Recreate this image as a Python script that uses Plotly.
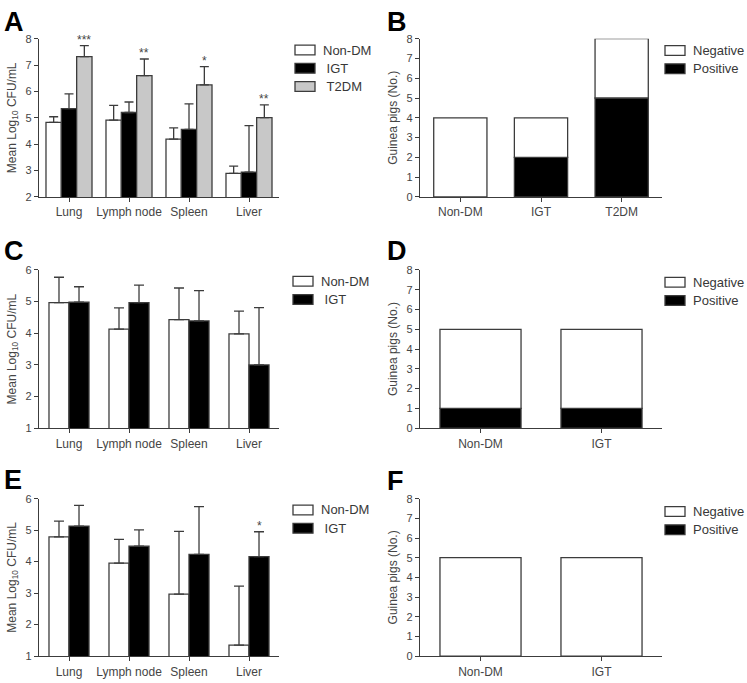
import plotly.graph_objects as go
from plotly.subplots import make_subplots

W, H = 747, 683

organs = ['Lung', 'Lymph node', 'Spleen', 'Liver']

# panel A: Non-DM / IGT / T2DM, mean log10 CFU/mL with upper SD
a_nondm = [4.83, 4.91, 4.19, 2.89]
a_nondm_err = [0.21, 0.56, 0.43, 0.28]
a_igt = [5.35, 5.20, 4.56, 2.94]
a_igt_err = [0.56, 0.40, 0.97, 1.76]
a_t2dm = [7.32, 6.60, 6.25, 5.01]
a_t2dm_err = [0.42, 0.63, 0.69, 0.48]
a_stars = ['***', '**', '*', '**']

# panel C
c_nondm = [4.97, 4.13, 4.43, 3.98]
c_nondm_err = [0.80, 0.67, 1.00, 0.72]
c_igt = [4.98, 4.97, 4.39, 3.00]
c_igt_err = [0.49, 0.55, 0.96, 1.81]

# panel E
e_nondm = [4.79, 3.95, 2.97, 1.35]
e_nondm_err = [0.50, 0.76, 1.99, 1.87]
e_igt = [5.13, 4.49, 4.23, 4.16]
e_igt_err = [0.66, 0.52, 1.52, 0.79]
e_stars = ['', '', '', '*']

# panels B, D, F: guinea pigs positive / negative
b_groups = ['Non-DM', 'IGT', 'T2DM']
b_pos = [0, 2, 5]
b_neg = [4, 2, 3]
d_groups = ['Non-DM', 'IGT']
d_pos = [1, 1]
d_neg = [4, 4]
f_groups = ['Non-DM', 'IGT']
f_pos = [0, 0]
f_neg = [5, 5]

EDGE = '#3c3c3c'
TXT = '#454545'
FONT = 'Liberation Sans, Arial, sans-serif'
WHITE, BLACK, GREY = '#ffffff', '#000000', '#c8c8c8'


def px_x(p):
    return p / W


def px_y(p):
    return 1 - p / H


fig = make_subplots(rows=3, cols=2)


def grouped(row, col, series, stars, groupw, capw):
    n = len(series)
    w = groupw / n
    for k, (name, vals, errs, color) in enumerate(series):
        off = -groupw / 2 + k * w
        fig.add_trace(go.Bar(
            x=organs, y=vals, name=name, width=w, offset=off,
            marker=dict(color=color, line=dict(color=EDGE, width=1.3)),
            error_y=dict(type='data', array=errs, arrayminus=[0] * len(errs),
                         symmetric=False, color=EDGE, thickness=1.3, width=capw)),
            row=row, col=col)
        if stars is not None and k == stars[0]:
            for i, s in enumerate(stars[1]):
                if s:
                    fig.add_annotation(x=i + off + w / 2, y=vals[i] + errs[i], text=s,
                                       showarrow=False, yanchor='bottom', yshift=-3,
                                       font=dict(size=12, color=TXT),
                                       row=row, col=col)


def stacked(row, col, groups, pos, neg, barw):
    fig.add_trace(go.Bar(x=groups, y=pos, name='Positive', width=barw, offset=-barw / 2,
                         marker=dict(color=BLACK, line=dict(color=EDGE, width=1.3))),
                  row=row, col=col)
    fig.add_trace(go.Bar(x=groups, y=neg, base=pos, name='Negative', width=barw, offset=-barw / 2,
                         marker=dict(color=WHITE, line=dict(color=EDGE, width=1.3))),
                  row=row, col=col)


grouped(1, 1, [('Non-DM', a_nondm, a_nondm_err, WHITE),
               ('IGT', a_igt, a_igt_err, BLACK),
               ('T2DM', a_t2dm, a_t2dm_err, GREY)],
        (2, a_stars), 0.767, 4.5)
stacked(1, 2, b_groups, b_pos, b_neg, 0.66)
grouped(2, 1, [('Non-DM', c_nondm, c_nondm_err, WHITE),
               ('IGT', c_igt, c_igt_err, BLACK)],
        None, 0.667, 5)
stacked(2, 2, d_groups, d_pos, d_neg, 0.67)
grouped(3, 1, [('Non-DM', e_nondm, e_nondm_err, WHITE),
               ('IGT', e_igt, e_igt_err, BLACK)],
        (1, e_stars), 0.667, 5)
stacked(3, 2, f_groups, f_pos, f_neg, 0.67)

rows_px = [(33.3, 194.3), (268.7, 429.7), (501.5, 661.7)]
cols_px = [(39, 279), (420, 662)]
yranges = [[2, 8], [1, 6], [1, 6]]
ncat = [len(organs), len(b_groups), len(organs), len(d_groups), len(organs), len(f_groups)]

axis_common = dict(showline=True, linecolor=EDGE, linewidth=1.3, ticks='outside',
                   ticklen=4, tickwidth=1.3, tickcolor=EDGE, showgrid=False,
                   zeroline=False, mirror=False)

for r in range(3):
    for c in range(2):
        idx = r * 2 + c + 1
        sx = '' if idx == 1 else str(idx)
        top, bot = rows_px[r]
        left, right = cols_px[c]
        fig.layout['xaxis' + sx].update(
            domain=[px_x(left), px_x(right)], range=[-0.5, ncat[idx - 1] - 0.5],
            tickfont=dict(size=12, color=TXT), **axis_common)
        if c == 0:
            yr, ttl = yranges[r], 'Mean Log<sub>10</sub> CFU/mL'
        else:
            yr, ttl = [0, 8], 'Guinea pigs (No.)'
        fig.layout['yaxis' + sx].update(
            domain=[px_y(bot), px_y(top)], range=yr, dtick=1,
            tickfont=dict(size=11, color=TXT),
            title=dict(text=ttl, font=dict(size=12, color=TXT), standoff=6),
            **axis_common)

# legends drawn as swatch + label next to each panel
left_keys = [('Non-DM', WHITE), ('\u00a0IGT', BLACK), ('\u00a0T2DM', GREY)]
right_keys = [('Negative', WHITE), ('Positive', BLACK)]
legends = [(left_keys, 295, 11.5), (right_keys, 665, 12),
           (left_keys[:2], 293, 11.5), (right_keys, 665, 12.5),
           (left_keys[:2], 293, 11.5), (right_keys, 665, 13)]
for i, (keys, bx, dy) in enumerate(legends):
    top = rows_px[i // 2][0]
    for k, (lab, col) in enumerate(keys):
        cy = top + dy + k * 18.6
        fig.add_shape(type='rect', xref='paper', yref='paper',
                      x0=px_x(bx), x1=px_x(bx + 20), y0=px_y(cy + 5), y1=px_y(cy - 5),
                      fillcolor=col, line=dict(color=EDGE, width=1.3))
        fig.add_annotation(text=lab, x=px_x(bx + 26), y=px_y(cy), xref='paper', yref='paper',
                           xanchor='left', yanchor='middle', showarrow=False,
                           font=dict(size=13, color='#383838'))

letters = [('A', 2, 15), ('B', 385, 15), ('C', 2, 248), ('D', 385, 248), ('E', 2, 481), ('F', 385, 482)]
for t, lx, ly in letters:
    fig.add_annotation(text='<b>' + t + '</b>', x=px_x(lx), y=px_y(ly + 1.5), xref='paper', yref='paper',
                       xanchor='left', yanchor='middle', showarrow=False,
                       font=dict(size=27, color='#000000', family=FONT))

fig.update_layout(width=W, height=H, margin=dict(l=0, r=0, t=0, b=0),
                  barmode='overlay', plot_bgcolor='white', paper_bgcolor='white',
                  font=dict(family=FONT, color=TXT), showlegend=False)

# the page body keeps its default 8px margin otherwise
fig.write_html('out.html', config={'displayModeBar': False},
               post_script="document.body.style.margin='0';")
